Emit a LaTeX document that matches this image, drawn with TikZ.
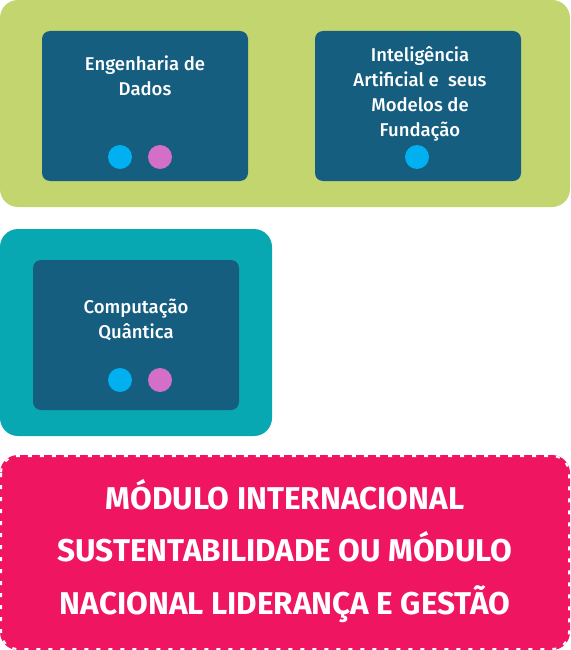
\documentclass[tikz,border=0pt]{standalone}
\usepackage{fontspec}
\setmainfont{Fira Sans}
\newfontfamily\medfont{Fira Sans Medium}
\definecolor{cgreen}{HTML}{C3D56E}
\definecolor{cdark}{HTML}{165E80}
\definecolor{cteal}{HTML}{08A8B2}
\definecolor{ccyan}{HTML}{00B0F0}
\definecolor{cpinkdot}{HTML}{D36FC6}
\definecolor{cpink}{HTML}{EF1560}
\tikzset{
  outerbox/.style={rounded corners=18pt},
  innerbox/.style={fill=cdark, rounded corners=8pt},
  boxtext/.style={text=white, align=center, font=\medfont\fontsize{18.5}{25}\selectfont, inner sep=0pt},
  dotc/.style={circle, fill=ccyan, minimum size=24pt, inner sep=0pt},
  dotp/.style={circle, fill=cpinkdot, minimum size=24pt, inner sep=0pt},
  bigtext/.style={text=white, align=center, font=\bfseries\fontsize{31.5}{52.5}\selectfont, inner sep=0pt},
}
\begin{document}
\begin{tikzpicture}[x=1pt,y=-1pt]
\useasboundingbox (0,0) rectangle (570,650);
% green group
\fill[cgreen, outerbox] (0,0) rectangle (570,207);
\fill[innerbox] (42,31) rectangle (248,181);
\fill[innerbox] (315,31) rectangle (521,181);
\node[boxtext] (eng) at (145,76) {Engenharia de\\Dados};
\node[dotc] (engc) at (120,157) {};
\node[dotp] (engp) at (160,157) {};
\node[boxtext] (ia) at (420,93.5) {Inteligência\\Artificial e\ \ seus\\Modelos de\\Fundação};
\node[dotc] (iac) at (417,157) {};
% teal group
\fill[cteal, outerbox] (0,229) rectangle (272,436);
\fill[innerbox] (33,260) rectangle (239,410);
\node[boxtext] (cq) at (136,320) {Computação\\Quântica};
\node[dotc] (cqc) at (120,380) {};
\node[dotp] (cqp) at (160,380) {};
% pink box
\fill[cpink, outerbox] (0,455) rectangle (570,650);
\draw[white, line width=2pt, dash pattern=on 4pt off 8pt, rounded corners=17pt] (1,456) rectangle (569,649);
\node[bigtext] (mod) at (285,551) {MÓDULO INTERNACIONAL\\SUSTENTABILIDADE OU MÓDULO\\NACIONAL LIDERANÇA E GESTÃO};
\end{tikzpicture}
\end{document}
